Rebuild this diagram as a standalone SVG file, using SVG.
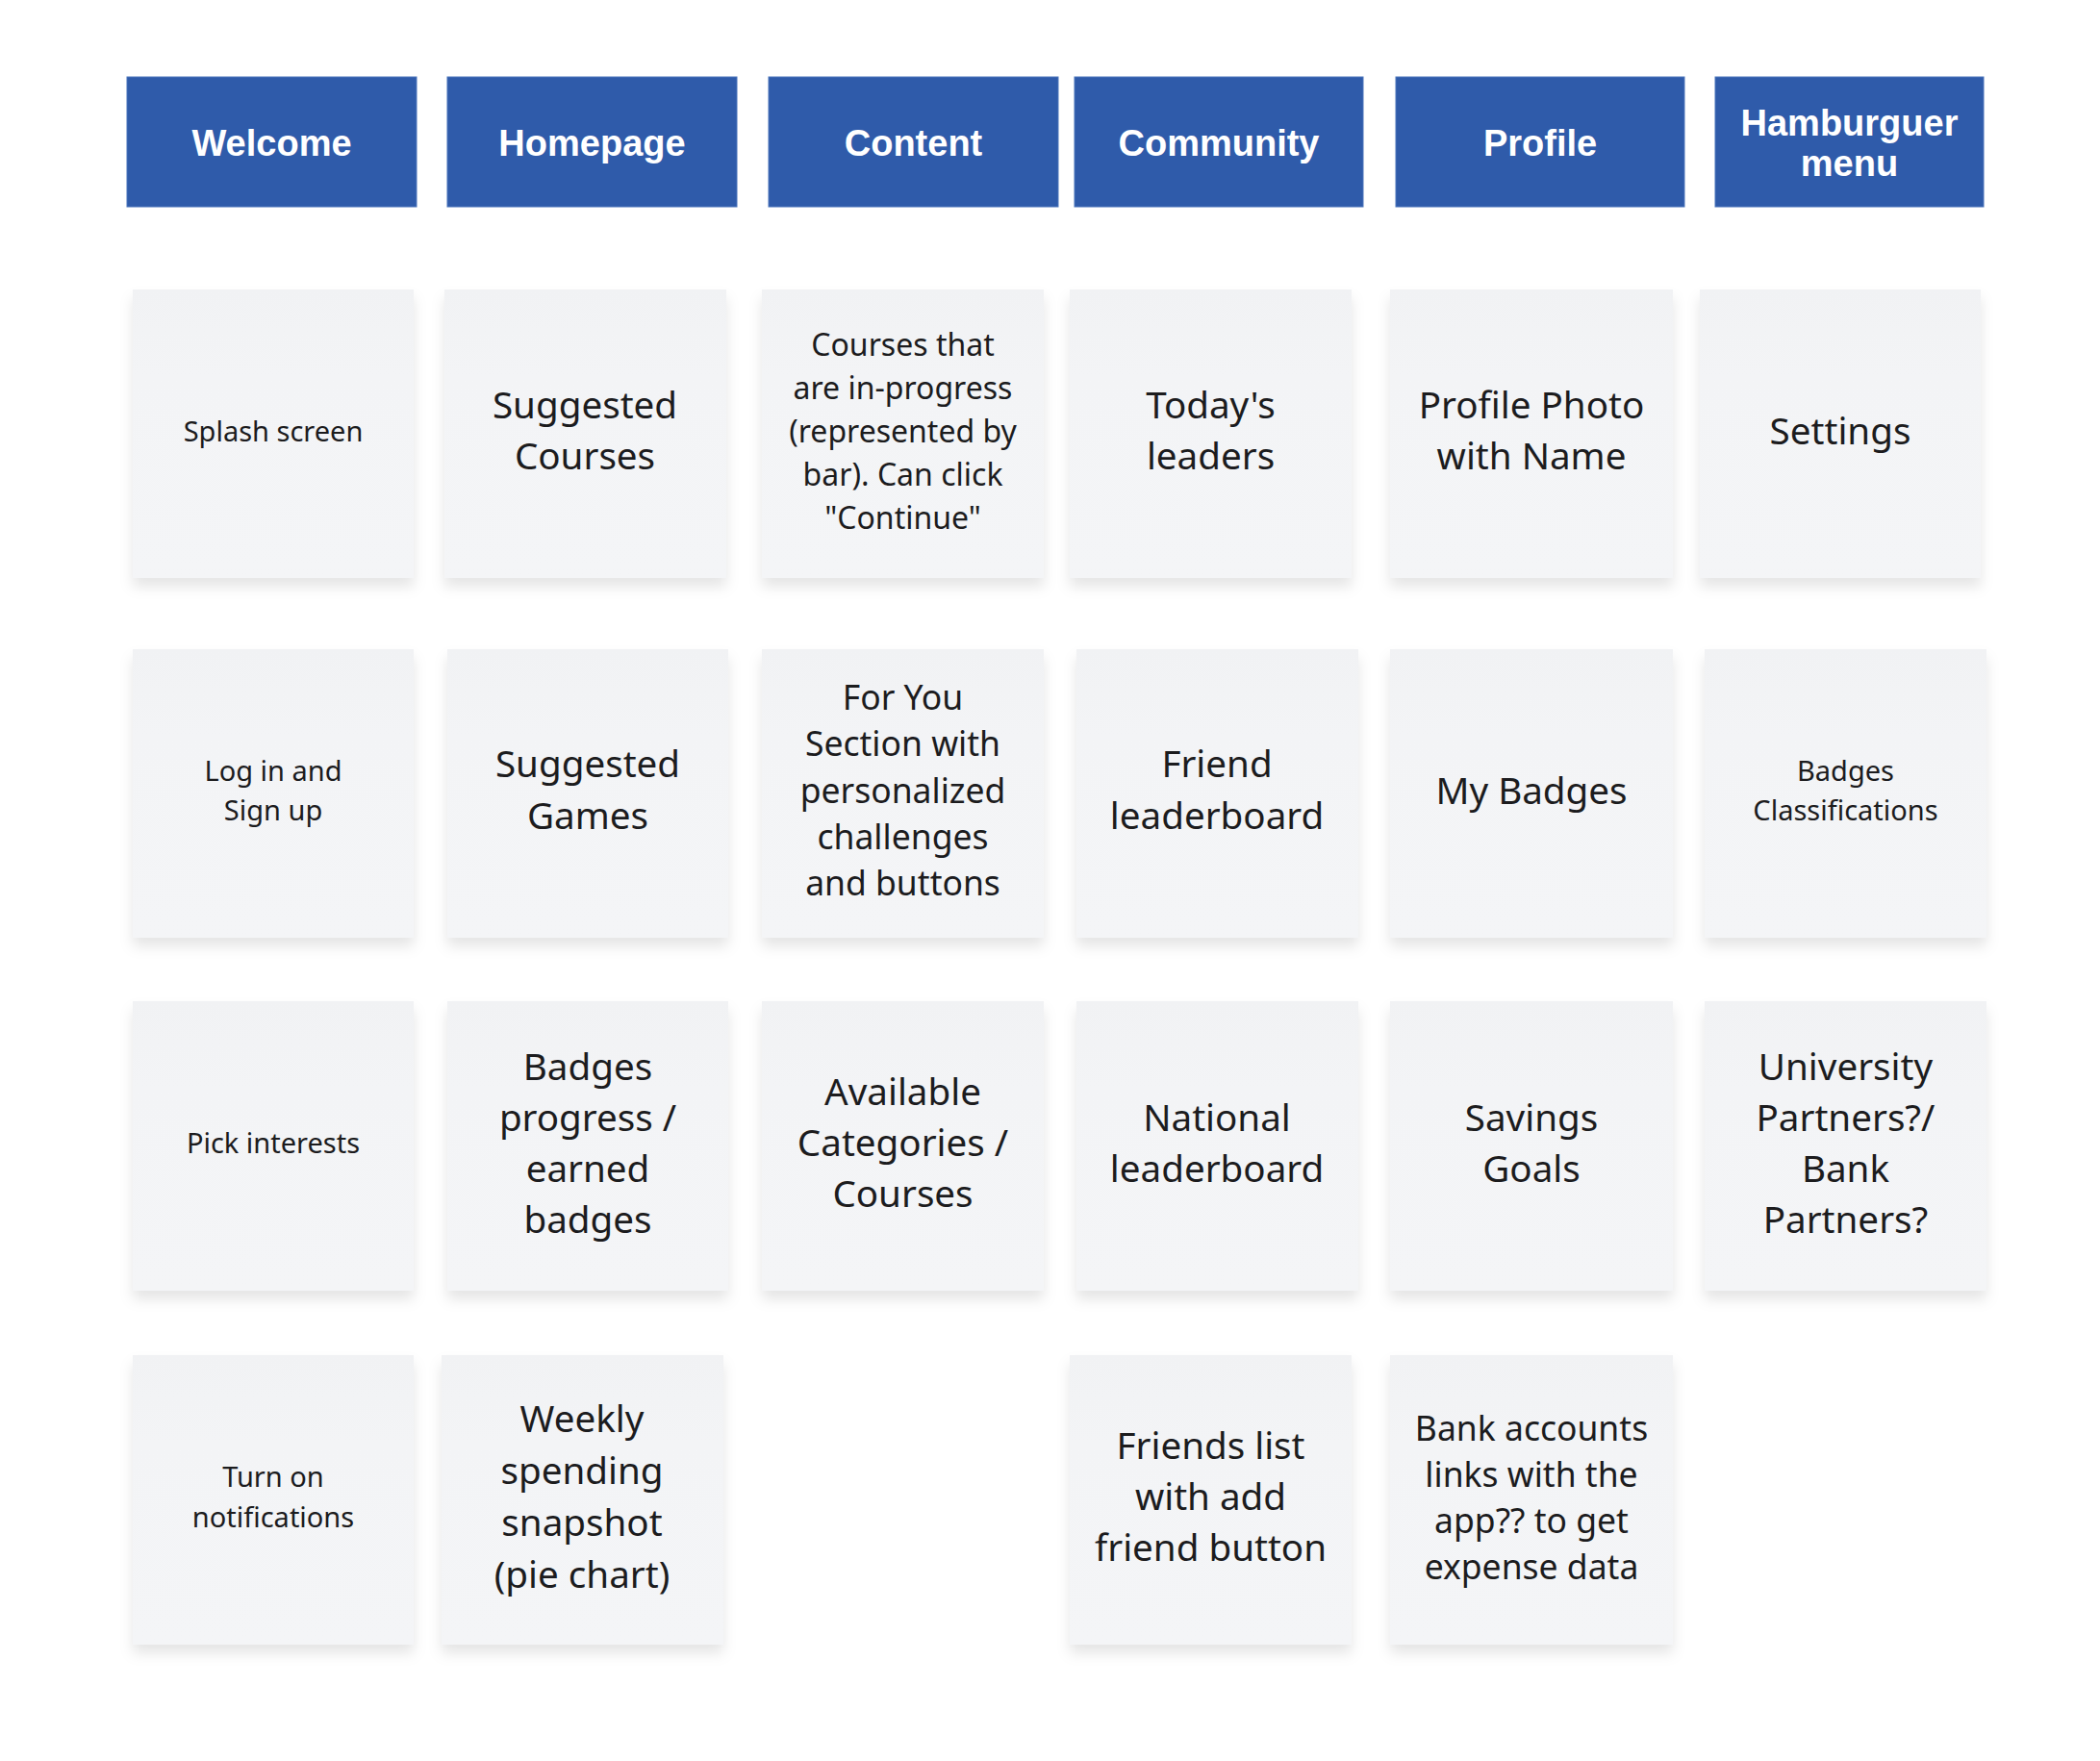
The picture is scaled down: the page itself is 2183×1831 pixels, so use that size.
<svg xmlns="http://www.w3.org/2000/svg" width="2183" height="1831" viewBox="0 0 2183 1831">
<style>
.hdr rect{fill:#2f5baa;stroke:#4a74bb;stroke-width:1}
.hdr text{font-family:"Liberation Sans",Arial,sans-serif;font-weight:bold;font-size:38px;fill:#ffffff;text-anchor:middle}
.card rect{fill:url(#cardfill);filter:url(#shadow)}
.card text{font-family:"Noto Sans","Open Sans",sans-serif;fill:#1c1c1e;text-anchor:middle}
.s{font-size:29px}
.m{font-size:32px}
.l{font-size:35.5px}
.xl{font-size:38.6px}
</style>
<defs>
<linearGradient id="cardfill" x1="0" y1="0" x2="0" y2="1">
<stop offset="0" stop-color="#f1f2f4"/>
<stop offset="0.3" stop-color="#f3f4f6"/>
<stop offset="1" stop-color="#f4f5f7"/>
</linearGradient>
<filter id="shadow" x="-10%" y="-10%" width="120%" height="130%">
<feDropShadow dx="0" dy="9" stdDeviation="7" flood-color="#000" flood-opacity="0.10"/>
</filter>
</defs>
<rect x="0" y="0" width="2183" height="1831" fill="#ffffff"/>

<g id="headers">
<g id="h-welcome" class="hdr"><rect x="132" y="80" width="301" height="135"/><text x="282.5" y="162">Welcome</text></g>
<g id="h-homepage" class="hdr"><rect x="465" y="80" width="301" height="135"/><text x="615.5" y="162">Homepage</text></g>
<g id="h-content" class="hdr"><rect x="799" y="80" width="301" height="135"/><text x="949.5" y="162">Content</text></g>
<g id="h-community" class="hdr"><rect x="1117" y="80" width="300" height="135"/><text x="1267" y="162">Community</text></g>
<g id="h-profile" class="hdr"><rect x="1451" y="80" width="300" height="135"/><text x="1601" y="162">Profile</text></g>
<g id="h-hamburguer" class="hdr"><rect x="1783" y="80" width="279" height="135"/><text x="1922.5" y="141">Hamburguer</text><text x="1922.5" y="183">menu</text></g>
</g>

<g id="connectors"></g>

<g id="cards">
<!-- Row 1 -->
<g id="c-splash" class="card"><rect x="138" y="301" width="292" height="300"/><text class="s" x="284" y="459">Splash screen</text></g>
<g id="c-suggested-courses" class="card"><rect x="462" y="301" width="293" height="300"/><text class="xl" x="608" y="435">Suggested</text><text class="xl" x="608" y="488">Courses</text></g>
<g id="c-courses-progress" class="card"><rect x="792" y="301" width="293" height="300"/><text class="m" x="938.5" y="370">Courses that</text><text class="m" x="938.5" y="415">are in-progress</text><text class="m" x="938.5" y="460">(represented by</text><text class="m" x="938.5" y="505">bar). Can click</text><text class="m" x="938.5" y="550">"Continue"</text></g>
<g id="c-todays-leaders" class="card"><rect x="1112" y="301" width="293" height="300"/><text class="xl" x="1258.5" y="435">Today's</text><text class="xl" x="1258.5" y="488">leaders</text></g>
<g id="c-profile-photo" class="card"><rect x="1445" y="301" width="294" height="300"/><text class="xl" x="1592" y="435">Profile Photo</text><text class="xl" x="1592" y="488">with Name</text></g>
<g id="c-settings" class="card"><rect x="1767" y="301" width="292" height="300"/><text class="xl" x="1913" y="462">Settings</text></g>

<!-- Row 2 -->
<g id="c-login" class="card"><rect x="138" y="675" width="292" height="300"/><text class="s" x="284" y="812">Log in and</text><text class="s" x="284" y="853">Sign up</text></g>
<g id="c-suggested-games" class="card"><rect x="465" y="675" width="292" height="300"/><text class="xl" x="611" y="808">Suggested</text><text class="xl" x="611" y="862">Games</text></g>
<g id="c-for-you" class="card"><rect x="792" y="675" width="293" height="300"/><text class="l" x="938.5" y="738">For You</text><text class="l" x="938.5" y="786">Section with</text><text class="l" x="938.5" y="835">personalized</text><text class="l" x="938.5" y="883">challenges</text><text class="l" x="938.5" y="931">and buttons</text></g>
<g id="c-friend-leaderboard" class="card"><rect x="1119" y="675" width="293" height="300"/><text class="xl" x="1265" y="808">Friend</text><text class="xl" x="1265" y="862">leaderboard</text></g>
<g id="c-my-badges" class="card"><rect x="1445" y="675" width="294" height="300"/><text class="xl" x="1592" y="836">My Badges</text></g>
<g id="c-badges-class" class="card"><rect x="1772" y="675" width="293" height="300"/><text class="s" x="1918.5" y="812">Badges</text><text class="s" x="1918.5" y="853">Classifications</text></g>

<!-- Row 3 -->
<g id="c-pick-interests" class="card"><rect x="138" y="1041" width="292" height="301"/><text class="s" x="284" y="1199">Pick interests</text></g>
<g id="c-badges-progress" class="card"><rect x="465" y="1041" width="292" height="301"/><text class="xl" x="611" y="1123">Badges</text><text class="xl" x="611" y="1176">progress /</text><text class="xl" x="611" y="1229">earned</text><text class="xl" x="611" y="1282">badges</text></g>
<g id="c-available" class="card"><rect x="792" y="1041" width="293" height="301"/><text class="xl" x="938.5" y="1149">Available</text><text class="xl" x="938.5" y="1202">Categories /</text><text class="xl" x="938.5" y="1255">Courses</text></g>
<g id="c-national" class="card"><rect x="1119" y="1041" width="293" height="301"/><text class="xl" x="1265" y="1176">National</text><text class="xl" x="1265" y="1229">leaderboard</text></g>
<g id="c-savings" class="card"><rect x="1445" y="1041" width="294" height="301"/><text class="xl" x="1592" y="1176">Savings</text><text class="xl" x="1592" y="1229">Goals</text></g>
<g id="c-partners" class="card"><rect x="1772" y="1041" width="293" height="301"/><text class="xl" x="1918.5" y="1123">University</text><text class="xl" x="1918.5" y="1176">Partners?/</text><text class="xl" x="1918.5" y="1229">Bank</text><text class="xl" x="1918.5" y="1282">Partners?</text></g>

<!-- Row 4 -->
<g id="c-notifications" class="card"><rect x="138" y="1409" width="292" height="301"/><text class="s" x="284" y="1546">Turn on</text><text class="s" x="284" y="1588">notifications</text></g>
<g id="c-weekly" class="card"><rect x="459" y="1409" width="293" height="301"/><text class="xl" x="605" y="1489">Weekly</text><text class="xl" x="605" y="1543">spending</text><text class="xl" x="605" y="1597">snapshot</text><text class="xl" x="605" y="1651">(pie chart)</text></g>
<g id="c-friends-list" class="card"><rect x="1112" y="1409" width="293" height="301"/><text class="xl" x="1258.5" y="1517">Friends list</text><text class="xl" x="1258.5" y="1570">with add</text><text class="xl" x="1258.5" y="1623">friend button</text></g>
<g id="c-bank-accounts" class="card"><rect x="1445" y="1409" width="294" height="301"/><text class="l" x="1592" y="1498">Bank accounts</text><text class="l" x="1592" y="1546">links with the</text><text class="l" x="1592" y="1594">app?? to get</text><text class="l" x="1592" y="1642">expense data</text></g>
</g>
</svg>
